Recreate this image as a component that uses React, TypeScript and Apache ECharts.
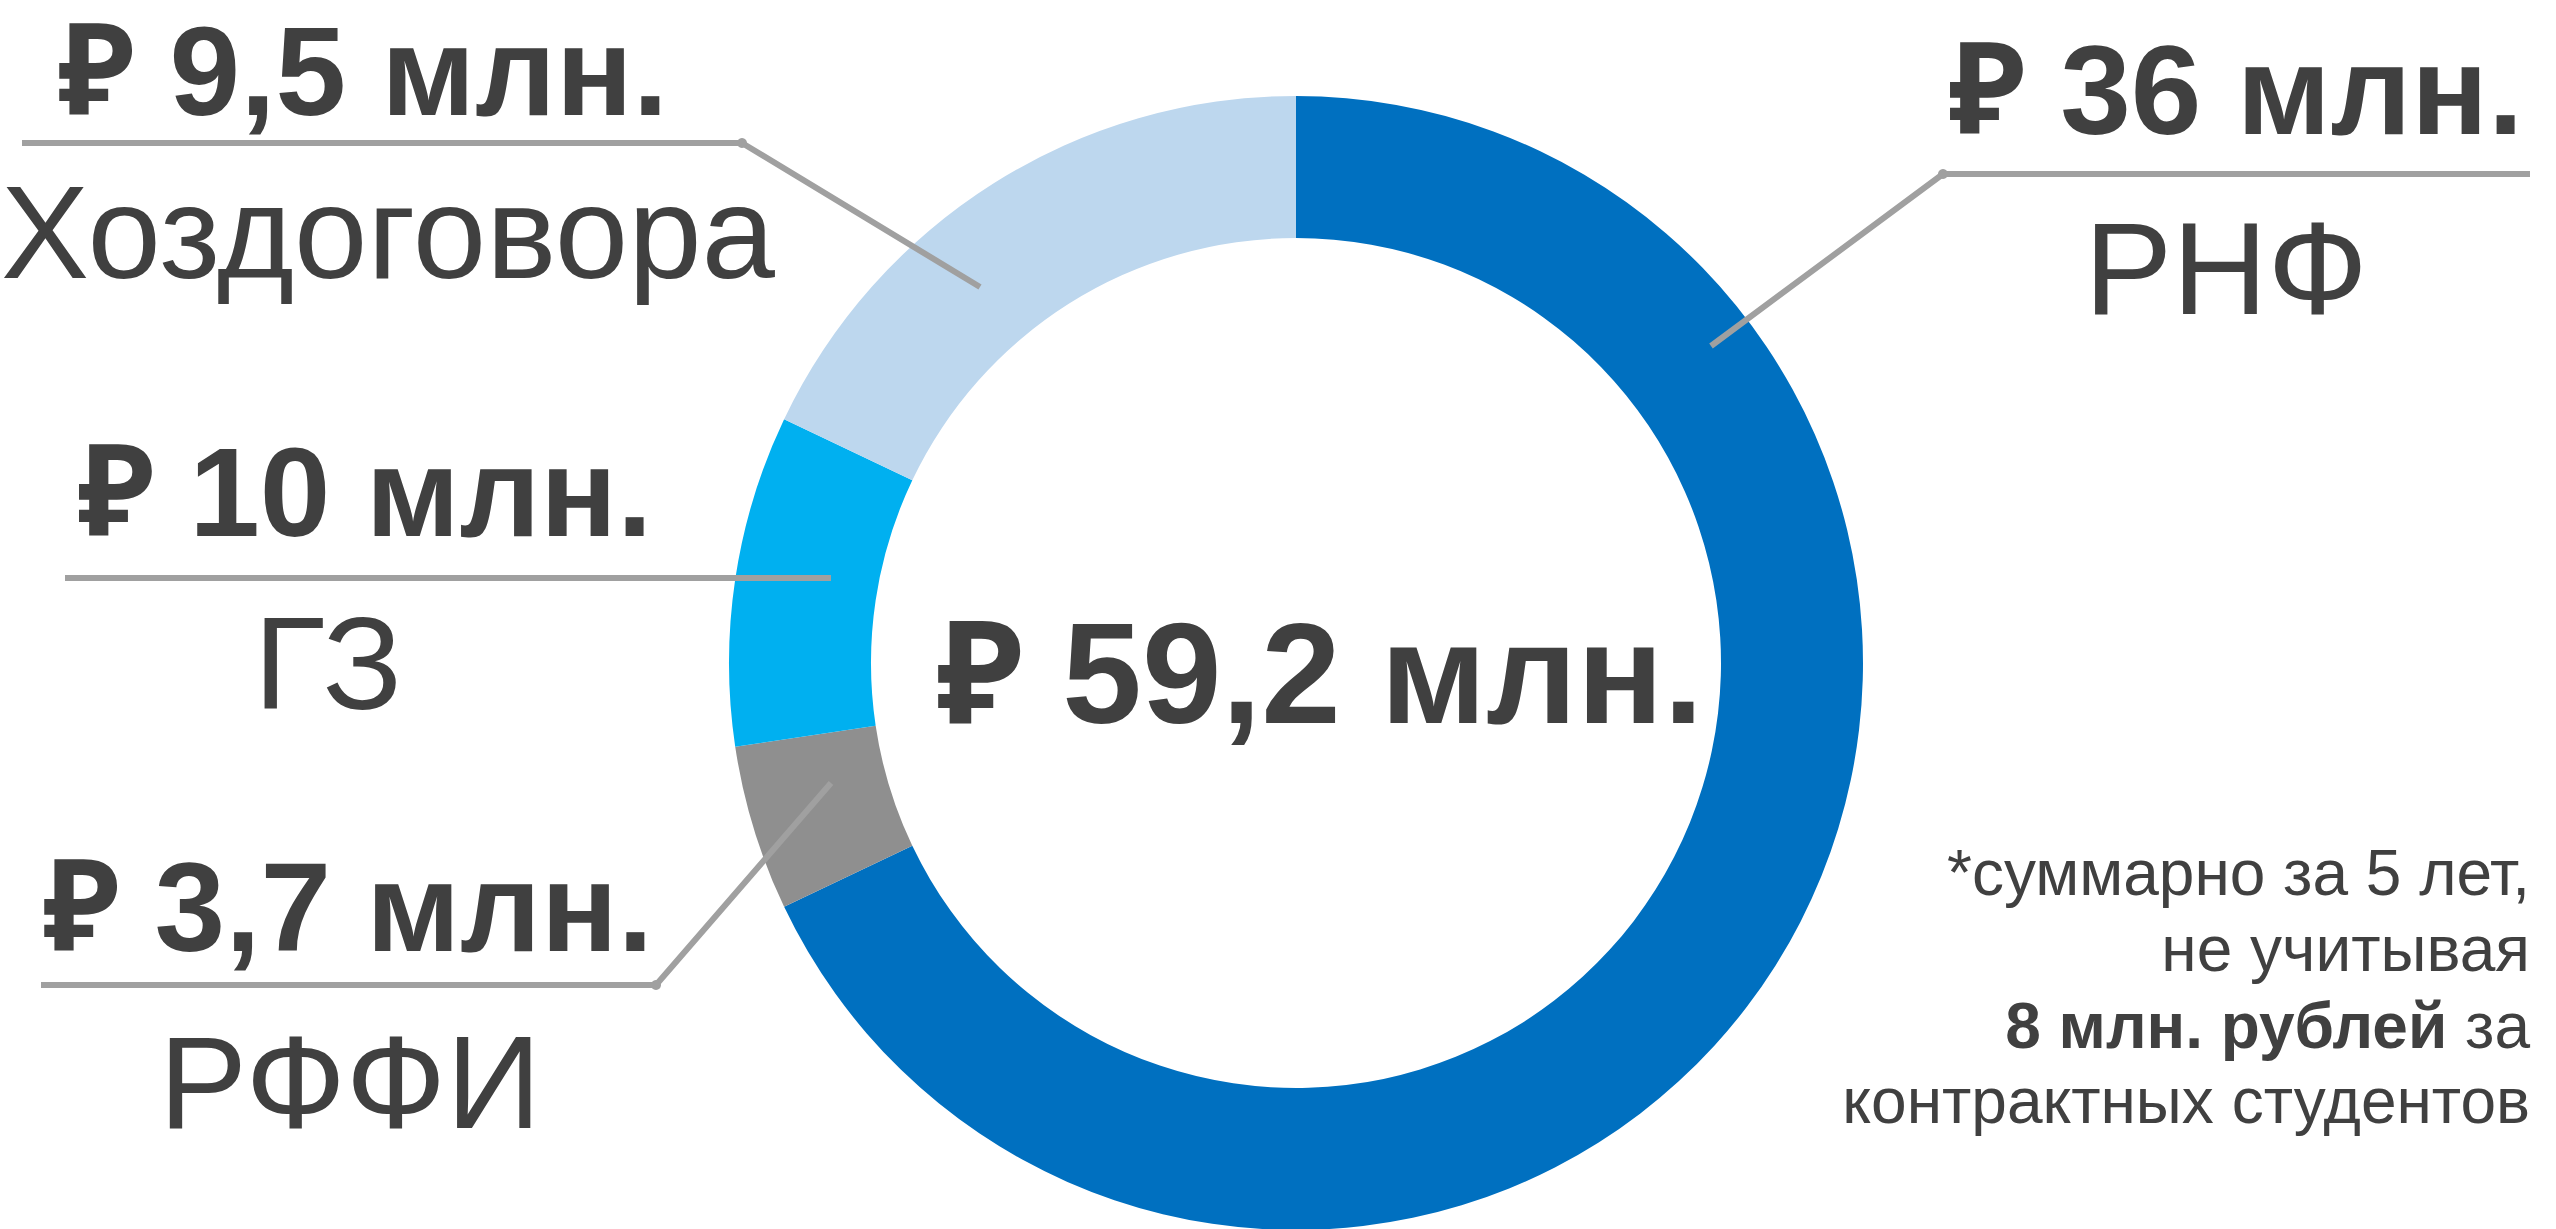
import React, { useEffect, useRef } from "react";
import * as echarts from "echarts";

// ---- data ----
const categories = ["РНФ", "РФФИ", "ГЗ", "Хоздоговора"];
const sliceValues = [36, 2.5, 5, 9.5];
const labelAmounts = ["36", "3,7", "10", "9,5"];
const sliceColors = ["#0070C0", "#8F8F8F", "#00B0F0", "#BDD7EE"];
const totalAmount = "59,2";
const noteLine1 = "*суммарно за 5 лет,";
const noteLine2 = "не учитывая";
const noteLine3Bold = "8 млн. рублей";
const noteLine3Rest = " за";
const noteLine4 = "контрактных студентов";

// ---- layout (positions only) ----
const FONT = "'Liberation Sans', Arial, 'Noto Sans', sans-serif";
const TEXT_COLOR = "#404040";
const LINE_COLOR = "#A0A0A0";
const CENTER: [number, number] = [1296, 663];
const RADII: [number, number] = [425, 567];

const labelLayout: Record<string, any> = {
  "РНФ": { ax: 2236, ay: 90, nx: 2226, ny: 268, pts: [[1711, 346], [1943, 174], [2530, 174]] },
  "РФФИ": { ax: 348, ay: 907, nx: 350, ny: 1082, pts: [[831, 783], [656, 985], [41, 985]] },
  "ГЗ": { ax: 365, ay: 492, nx: 328, ny: 663, pts: [[831, 578], [65, 578]] },
  "Хоздоговора": { ax: 363, ay: 71, nx: 388, ny: 232, pts: [[980, 287], [742, 143], [22, 143]] },
};

export default function App() {
  const ref = useRef<HTMLDivElement>(null);
  useEffect(() => {
    document.body.style.margin = "0";
    document.body.style.overflow = "hidden";
    const chart = echarts.init(ref.current!, null, { renderer: "svg" });
    const graphics: any[] = [];
    categories.forEach((c, i) => {
      const L = labelLayout[c];
      graphics.push({
        type: "polyline",
        shape: { points: L.pts },
        style: { stroke: LINE_COLOR, lineWidth: 6, fill: null, lineJoin: "round" },
        z: 10,
      });
      if (L.pts.length > 2) {
        graphics.push({
          type: "circle",
          shape: { cx: L.pts[1][0], cy: L.pts[1][1], r: 5 },
          style: { fill: LINE_COLOR },
          z: 10,
        });
      }
      graphics.push({
        type: "text",
        z: 11,
        style: {
          x: L.ax, y: L.ay,
          text: "₽ " + labelAmounts[i] + " млн.",
          font: `bold 127px ${FONT}`,
          lineHeight: 110,
          fill: TEXT_COLOR,
          textAlign: "center", textVerticalAlign: "middle",
          align: "center", verticalAlign: "middle",
        },
      });
      graphics.push({
        type: "text",
        z: 11,
        style: {
          x: L.nx, y: L.ny,
          text: c,
          font: `132px ${FONT}`,
          lineHeight: 120,
          fill: TEXT_COLOR,
          textAlign: "center", textVerticalAlign: "middle",
          align: "center", verticalAlign: "middle",
        },
      });
    });
    graphics.push({
      type: "text",
      z: 11,
      style: {
        x: 1320, y: 673,
        text: "₽ " + totalAmount + " млн.",
        font: `bold 143px ${FONT}`,
        lineHeight: 130,
        fill: TEXT_COLOR,
        textAlign: "center", textVerticalAlign: "middle",
        align: "center", verticalAlign: "middle",
      },
    });
    const noteYs = [873, 949, 1026, 1101];
    [noteLine1, noteLine2, null, noteLine4].forEach((t, k) => {
      if (t === null) return;
      graphics.push({
        type: "text",
        z: 11,
        style: {
          x: 2530, y: noteYs[k],
          text: t,
          font: `64px ${FONT}`,
          fill: TEXT_COLOR,
          textAlign: "right", textVerticalAlign: "middle",
          align: "right", verticalAlign: "middle",
        },
      });
    });
    graphics.push({
      type: "text",
      z: 11,
      style: {
        x: 2530, y: noteYs[2],
        text: "{b|" + noteLine3Bold + "}{r|" + noteLine3Rest + "}",
        rich: {
          b: { font: `bold 64px ${FONT}`, fill: TEXT_COLOR, fontWeight: "bold", fontSize: 64, fontFamily: FONT },
          r: { font: `64px ${FONT}`, fill: TEXT_COLOR, fontSize: 64, fontFamily: FONT },
        },
        font: `64px ${FONT}`,
        fill: TEXT_COLOR,
        textAlign: "right", textVerticalAlign: "middle",
        align: "right", verticalAlign: "middle",
      },
    });

    chart.setOption({
      animation: false,
      backgroundColor: "#ffffff",
      series: [
        {
          type: "pie",
          center: CENTER,
          radius: RADII,
          startAngle: 90,
          clockwise: true,
          avoidLabelOverlap: false,
          label: { show: false },
          labelLine: { show: false },
          emphasis: { disabled: true },
          itemStyle: { borderWidth: 0 },
          data: categories.map((c, i) => ({
            name: c,
            value: sliceValues[i],
            itemStyle: { color: sliceColors[i] },
          })),
        },
      ],
      graphic: graphics,
    });
    return () => chart.dispose();
  }, []);
  return <div ref={ref} style={{ width: 2556, height: 1229 }} />;
}
